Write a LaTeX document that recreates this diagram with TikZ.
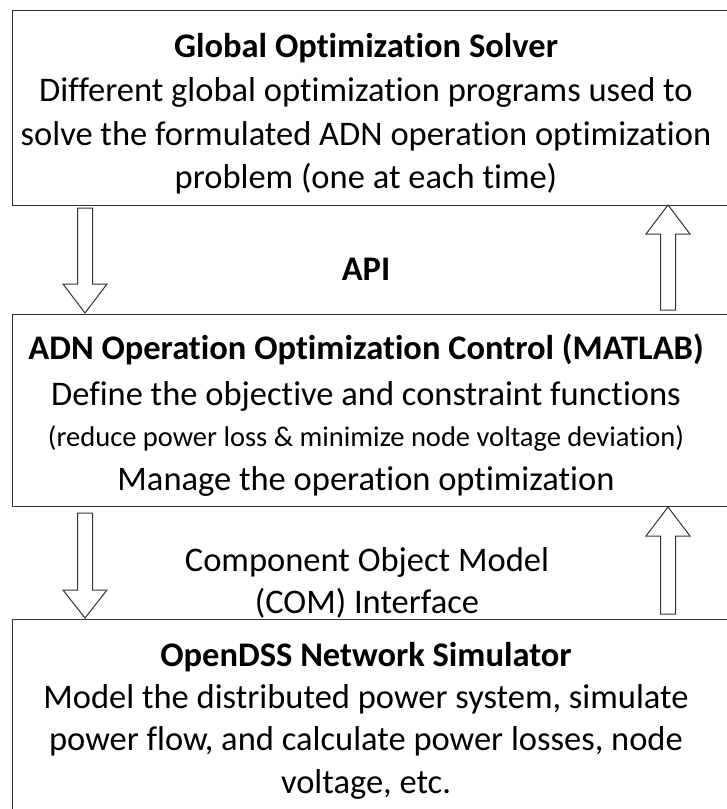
\documentclass[tikz,border=0pt]{standalone}
\usepackage{fontspec}
\setmainfont[Ligatures={NoCommon}]{Carlito}
\begin{document}
\begin{tikzpicture}[x=1pt,y=-1pt,
  box/.style={draw=black!80, line width=1.3pt, inner sep=0pt, anchor=north west},
  blk/.style={draw=black!80, line width=1pt, fill=white, line join=miter},
  txt/.style={inner sep=0pt, anchor=base, font=\fontsize{34.5}{40}\selectfont},
  hd/.style={inner sep=0pt, anchor=base, font=\fontsize{34.5}{40}\selectfont\bfseries},
  sm/.style={inner sep=0pt, anchor=base, font=\fontsize{28.5}{33}\selectfont}]
\useasboundingbox (0,0) rectangle (727,809);
% boxes
\node[box, minimum width=740pt, minimum height=195pt] (solver) at (12,10) {};
\node[box, minimum width=740pt, minimum height=192pt] (control) at (12,314) {};
\node[box, minimum width=740pt, minimum height=200pt] (sim) at (12,619) {};
% texts
\node[hd]  (t1) at (366,57)  {Global Optimization Solver};
\node[txt] (t2) at (366,101) {Different global optimization programs used to};
\node[txt] (t3) at (366,145) {solve the formulated ADN operation optimization};
\node[txt] (t4) at (366,188) {problem (one at each time)};
\node[hd]  (api) at (366,280) {API};
\node[hd]  (c1) at (366,359) {ADN Operation Optimization Control (MATLAB)};
\node[txt] (c2) at (366,405) {Define the objective and constraint functions};
\node[sm]  (c3) at (366,446) {(reduce power loss \& minimize node voltage deviation)};
\node[txt] (c4) at (366,490) {Manage the operation optimization};
\node[txt] (com1) at (367,571) {Component Object Model};
\node[txt] (com2) at (367,613) {(COM) Interface};
\node[hd]  (s1) at (366,666) {OpenDSS Network Simulator};
\node[txt] (s2) at (366,708) {Model the distributed power system, simulate};
\node[txt] (s3) at (366,750) {power flow, and calculate power losses, node};
\node[txt] (s4) at (366,793) {voltage, etc.};
% block arrows (x centre, shaft end, head base, tip)
\newcommand{\blkarrow}[4]{\draw[blk] (#1-7.5,#2) -- (#1+7.5,#2) -- (#1+7.5,#3) -- (#1+22,#3) -- (#1,#4) -- (#1-22,#3) -- (#1-7.5,#3) -- cycle;}
\blkarrow{85}{208}{284}{313}
\blkarrow{668}{310}{234}{205}
\blkarrow{85}{513}{590}{618}
\blkarrow{668}{614}{536}{507}
\end{tikzpicture}
\end{document}
